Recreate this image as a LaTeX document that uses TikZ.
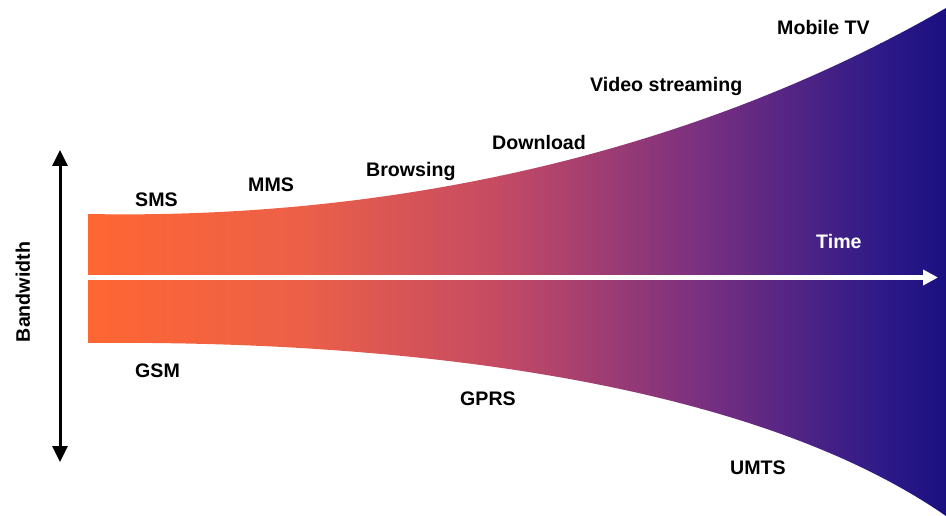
\documentclass[tikz,border=0pt]{standalone}
\usepackage{fontspec}
\setmainfont{Liberation Sans}
\usetikzlibrary{arrows.meta}
\definecolor{funA}{RGB}{255,102,51}
\definecolor{funB}{RGB}{236,96,72}
\definecolor{funC}{RGB}{196,74,100}
\definecolor{funD}{RGB}{122,48,128}
\definecolor{funE}{RGB}{46,26,136}
\definecolor{funF}{RGB}{26,16,128}
\begin{document}
\begin{tikzpicture}[x=1pt,y=-1pt,font=\fontsize{19.6}{22}\selectfont\bfseries,
 lbl/.style={anchor=base west,inner sep=0pt}]
\useasboundingbox (0,0) rectangle (946,516);
% funnel
\begin{scope}
 \clip (88,214) .. controls (400,220) and (700,150) .. (946,8) -- (946,516)
  .. controls (750,380) and (400,340) .. (88,343) -- cycle;
 \foreach \xa/\xb/\ca/\cb in {88/301/funA/funB,300/501/funB/funC,500/701/funC/funD,700/881/funD/funE,880/947/funE/funF} {
  \shade[left color=\ca,right color=\cb] (\xa,0) rectangle (\xb,516);
 }
\end{scope}
% axes
\coordinate (t0) at (88,277.5); \coordinate (t1) at (938,277.5);
\draw[white,line width=5pt,-{Triangle[length=15pt,width=15pt]}] (t0)--(t1);
\coordinate (bw0) at (60,462); \coordinate (bw1) at (60,150);
\draw[line width=3pt,{Triangle[length=16pt,width=15pt]}-{Triangle[length=16pt,width=15pt]}] (bw0)--(bw1);
\node[rotate=90,anchor=base,inner sep=0pt] (bw) at (30,292) {Bandwidth};
% labels
\node[lbl] (sms) at (135,206.5) {SMS};
\node[lbl] (mms) at (248,192) {MMS};
\node[lbl] (brw) at (366,177) {Browsing};
\node[lbl] (dl) at (492,150) {Download};
\node[lbl] (vid) at (590,92) {Video streaming};
\node[lbl] (mtv) at (777,35) {Mobile TV};
\node[lbl,white] (time) at (816,248) {Time};
\node[lbl] (gsm) at (135,377) {GSM};
\node[lbl] (gprs) at (460,405) {GPRS};
\node[lbl] (umts) at (730,474) {UMTS};
\end{tikzpicture}
\end{document}
